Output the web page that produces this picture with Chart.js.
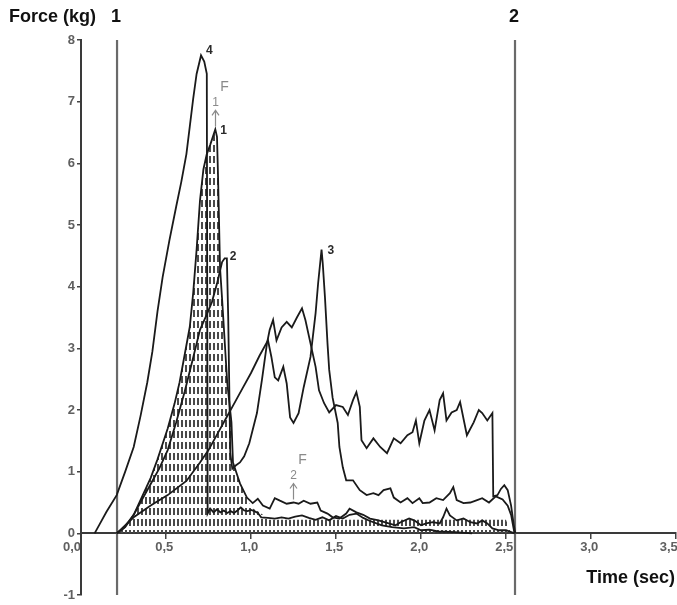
<!DOCTYPE html>
<html>
<head>
<meta charset="utf-8">
<script src="https://cdn.jsdelivr.net/npm/chart.js@4.4.3/dist/chart.umd.min.js"></script>
<style>
  html, body { margin: 0; padding: 0; background: #fff; }
  #wrap { position: relative; width: 677px; height: 605px; }
</style>
</head>
<body>
<div id="wrap"><canvas id="chart"></canvas></div>
<script>
/* Force / time traces: [time (s), force (kg)] */

const xTicks = [0, 0.5, 1, 1.5, 2, 2.5, 3, 3.5];
const yTicks = [-1, 0, 1, 2, 3, 4, 5, 6, 7, 8];
const xTitle = 'Time (sec)';
const yTitle = 'Force (kg)';

// vertical markers 1 and 2
const markerNames = ['1', '2'];
const markerTime = [0.212, 2.553];

const curve4 = [[0.08,0],[0.11,0.15],[0.15,0.35],[0.21,0.62],[0.26,1.0],[0.31,1.4],[0.35,1.9],[0.39,2.45],
  [0.42,2.95],[0.45,3.6],[0.48,4.15],[0.52,4.75],[0.56,5.3],[0.59,5.7],[0.62,6.15],[0.64,6.6],[0.66,7.05],
  [0.68,7.45],[0.706,7.75],[0.725,7.65],[0.74,7.45],[0.745,0.32],[0.76,0.4],[0.78,0.34],[0.80,0.39],[0.82,0.34],
  [0.84,0.37],[0.86,0.33],[0.88,0.36],[0.90,0.33],[0.92,0.37],[0.94,0.42],[0.96,0.37],[0.98,0.36],[1.00,0.38],
  [1.02,0.36],[1.04,0.33],[1.06,0.26],[1.10,0.25],[1.14,0.24],[1.18,0.26],[1.22,0.24],[1.26,0.27],[1.30,0.29],
  [1.34,0.25],[1.38,0.22],[1.42,0.26],[1.46,0.21],[1.50,0.28],[1.54,0.24],[1.58,0.3],[1.62,0.32],[1.66,0.25],
  [1.70,0.2],[1.77,0.13],[1.83,0.1],[1.90,0.08],[1.96,0.1],[2.00,0.05],[2.05,0.06],[2.10,0.03],[2.20,0.02],[2.30,0]];

const curve1 = [[0.21,0],[0.25,0.08],[0.31,0.3],[0.36,0.6],[0.41,0.9],[0.45,1.2],[0.51,1.7],[0.55,2.1],[0.58,2.45],
  [0.61,2.9],[0.64,3.35],[0.66,3.9],[0.68,4.6],[0.70,5.4],[0.72,5.9],[0.74,6.15],[0.76,6.3],[0.79,6.55],[0.80,6.43],
  [0.806,5.8],[0.818,4.3],[0.83,3.8],[0.86,2.45],[0.885,1.8],[0.894,1.15],[0.935,0.81],[0.976,0.58],[1.01,0.49],
  [1.04,0.56],[1.07,0.45],[1.11,0.4],[1.14,0.57],[1.17,0.53],[1.21,0.48],[1.25,0.5],[1.28,0.48],[1.31,0.53],
  [1.35,0.48],[1.39,0.5],[1.41,0.37],[1.45,0.32],[1.48,0.26],[1.52,0.24],[1.56,0.32],[1.58,0.4],[1.62,0.34],
  [1.66,0.3],[1.70,0.24],[1.75,0.21],[1.81,0.16],[1.85,0.13],[1.88,0.18],[1.93,0.24],[1.96,0.21],[2.00,0.13],
  [2.03,0.16],[2.07,0.18],[2.11,0.16],[2.13,0.26],[2.15,0.4],[2.17,0.29],[2.21,0.21],[2.25,0.24],[2.29,0.18],
  [2.33,0.16],[2.36,0.21],[2.39,0.16],[2.42,0.08],[2.46,0.05],[2.50,0.05],[2.55,0]];

const curve2 = [[0.21,0],[0.26,0.1],[0.31,0.3],[0.36,0.55],[0.41,0.8],[0.46,1.05],[0.51,1.35],[0.56,1.8],[0.61,2.3],
  [0.66,2.85],[0.70,3.3],[0.74,3.55],[0.77,3.75],[0.80,4.05],[0.83,4.4],[0.845,4.46],[0.858,4.46],[0.866,3.5],
  [0.872,2.4],[0.878,1.3],[0.89,1.05],[0.91,1.1],[0.935,1.15],[0.96,1.25],[0.99,1.46],[1.035,1.95],[1.065,2.5],
  [1.094,3.08],[1.11,3.3],[1.13,3.46],[1.15,3.13],[1.18,3.34],[1.21,3.43],[1.24,3.34],[1.27,3.5],[1.30,3.65],
  [1.32,3.46],[1.35,3.08],[1.38,2.7],[1.40,2.32],[1.43,2.11],[1.46,1.96],[1.50,2.08],[1.54,2.05],[1.57,1.92],
  [1.60,2.16],[1.62,2.29],[1.64,2.05],[1.65,1.51],[1.68,1.38],[1.72,1.54],[1.76,1.4],[1.80,1.3],[1.84,1.54],
  [1.88,1.46],[1.92,1.59],[1.95,1.64],[1.97,1.83],[1.99,1.46],[2.02,1.83],[2.05,2.0],[2.08,1.67],[2.11,2.16],
  [2.13,2.27],[2.15,1.83],[2.18,1.96],[2.21,2.0],[2.23,2.13],[2.27,1.59],[2.31,1.8],[2.34,2.0],[2.36,1.95],
  [2.39,1.83],[2.42,1.95],[2.425,0.6],[2.45,0.62],[2.47,0.72],[2.49,0.78],[2.51,0.7],[2.53,0.45],[2.545,0.15],[2.555,0]];

const curve3 = [[0.21,0],[0.31,0.26],[0.41,0.45],[0.51,0.62],[0.62,0.85],[0.70,1.15],[0.75,1.35],[0.80,1.6],
  [0.85,1.85],[0.90,2.1],[0.95,2.35],[1.00,2.6],[1.05,2.88],[1.10,3.13],[1.12,2.86],[1.14,2.53],[1.16,2.48],
  [1.19,2.7],[1.21,2.43],[1.23,1.88],[1.25,1.79],[1.28,1.95],[1.31,2.37],[1.35,2.86],[1.38,3.57],[1.395,4.06],
  [1.415,4.6],[1.422,4.38],[1.435,3.83],[1.45,3.08],[1.46,2.65],[1.48,2.2],[1.51,1.79],[1.52,1.4],[1.54,1.07],
  [1.56,0.86],[1.60,0.86],[1.64,0.7],[1.68,0.62],[1.72,0.65],[1.75,0.62],[1.78,0.7],[1.82,0.73],[1.84,0.58],
  [1.88,0.5],[1.92,0.57],[1.95,0.49],[1.99,0.57],[2.01,0.49],[2.05,0.5],[2.09,0.57],[2.13,0.54],[2.17,0.65],
  [2.19,0.75],[2.21,0.54],[2.25,0.49],[2.29,0.5],[2.33,0.54],[2.36,0.57],[2.40,0.5],[2.44,0.6],[2.48,0.55],
  [2.51,0.45],[2.53,0.3],[2.55,0]];

// top edge of the hatched area (impulse under trace 1)
const hatchEdge = [[0.21,0],[0.25,0.08],[0.31,0.3],[0.36,0.6],[0.41,0.9],[0.45,1.2],[0.51,1.7],[0.55,2.1],
  [0.58,2.45],[0.61,2.9],[0.64,3.35],[0.66,3.9],[0.68,4.6],[0.70,5.4],[0.72,5.9],[0.74,6.15],[0.76,6.3],
  [0.79,6.55],[0.80,6.43],[0.806,5.8],[0.818,4.3],[0.83,3.8],[0.86,2.45],[0.885,1.8],[0.894,1.15],[0.935,0.81],
  [0.976,0.58],[1.00,0.42],[1.04,0.36],[1.07,0.3],[1.10,0.22],[2.50,0.22],[2.53,0]];

// peak labels of the four traces
const peakNames = ['4', '1', '2', '3'];
const peakTime = [0.706, 0.79, 0.852, 1.415];
const peakForce = [7.75, 6.55, 4.46, 4.6];

// F1 / F2 arrows
const arrowNames = ['1', '2'];
const arrowTime = [0.79, 1.247];
const arrowForce = [6.55, 0.5];

const toXY = arr => arr.map(([x, y]) => ({ x, y }));

const ctx = document.getElementById('chart').getContext('2d');

// hatch: rows of short vertical dashes
function makeHatch() {
  const c = document.createElement('canvas');
  c.width = 4; c.height = 11;
  const g = c.getContext('2d');
  g.fillStyle = '#4a4a4a';
  g.fillRect(1, 2, 2, 7);
  return ctx.createPattern(c, 'repeat');
}

const lineStyle = { borderColor: '#1a1a1a', borderWidth: 1.8, pointRadius: 0, fill: false, order: 1 };

const datasets = [
  { data: toXY(hatchEdge), borderWidth: 0, pointRadius: 0, fill: 'origin', backgroundColor: makeHatch(), order: 10 },
  ...markerTime.map(t => ({ data: [{ x: t, y: -1 }, { x: t, y: 8 }], borderColor: '#6a6a6a', borderWidth: 2.2, pointRadius: 0, fill: false, order: 5 })),
  { ...lineStyle, data: toXY(curve4) },
  { ...lineStyle, data: toXY(curve1) },
  { ...lineStyle, data: toXY(curve2) },
  { ...lineStyle, data: toXY(curve3) },
];

const FONT = '"Liberation Sans", Arial, sans-serif';

const textPlugin = {
  id: 'texts',
  afterDraw(chart) {
    const { ctx, scales: { x, y } } = chart;
    ctx.save();
    ctx.textBaseline = 'middle';

    ctx.fillStyle = '#111';
    ctx.font = 'bold 18px ' + FONT;
    ctx.textAlign = 'left';
    ctx.fillText(yTitle, 9, 17);
    ctx.textAlign = 'right';
    ctx.fillText(xTitle, 675, 578);
    ctx.textAlign = 'center';
    markerTime.forEach((t, i) => ctx.fillText(markerNames[i], x.getPixelForValue(t) - 1, 17));

    // trace numbers next to their peaks
    const offs = [[5, -5], [5, 1], [4, -2], [6, 1]];
    ctx.font = 'bold 12px ' + FONT;
    ctx.fillStyle = '#2a2a2a';
    ctx.textAlign = 'left';
    peakNames.forEach((n, i) => {
      ctx.fillText(n, x.getPixelForValue(peakTime[i]) + offs[i][0], y.getPixelForValue(peakForce[i]) + offs[i][1]);
    });

    // F arrows
    ctx.strokeStyle = '#8a8a8a';
    ctx.fillStyle = '#8a8a8a';
    ctx.lineWidth = 1.2;
    arrowNames.forEach((n, i) => {
      const px = Math.round(x.getPixelForValue(arrowTime[i])) + 0.5;
      const py = y.getPixelForValue(arrowForce[i]);
      ctx.beginPath();
      ctx.moveTo(px, py - 3);
      ctx.lineTo(px, py - 19);
      ctx.moveTo(px - 3.5, py - 14);
      ctx.lineTo(px, py - 19);
      ctx.lineTo(px + 3.5, py - 14);
      ctx.stroke();
      ctx.font = '12px ' + FONT;
      ctx.textAlign = 'center';
      ctx.fillText(n, px, py - 27);
      ctx.font = '14px ' + FONT;
      ctx.fillText('F', px + 9, py - 42);
    });
    ctx.restore();
  }
};

// the first and last time labels sit a little left of their ticks in the original
function timeLabel(v) {
  const s = v.toFixed(1).replace('.', ',');
  if (v === 0) return s + '     ';
  if (v === 3.5) return s + '    ';
  return s + ' ';
}

new Chart(ctx, {
  type: 'line',
  data: { datasets },
  plugins: [textPlugin],
  options: {
    responsive: true,
    maintainAspectRatio: false,
    animation: false,
    layout: { padding: { top: 40, right: 1, bottom: 10, left: 0 } },
    plugins: { legend: { display: false }, tooltip: { enabled: false } },
    elements: { line: { tension: 0 } },
    scales: {
      x: {
        type: 'linear', min: 0, max: 3.5,
        position: { y: 0 },
        afterFit(s) { s.height = 0; s.paddingLeft = 0; s.paddingRight = 0; },
        afterBuildTicks(s) { s.ticks = xTicks.map(v => ({ value: v })); },
        ticks: {
          callback: timeLabel,
          color: '#606060', font: { family: FONT, size: 13, weight: 'bold' },
          padding: 1, maxRotation: 0, autoSkip: false
        },
        grid: { drawOnChartArea: false, drawTicks: true, tickLength: 5, color: '#444', lineWidth: 1.5 },
        border: { display: true, color: '#3a3a3a', width: 2 }
      },
      y: {
        min: -1, max: 8,
        afterFit(s) { s.width = 81; s.paddingTop = 0; s.paddingBottom = 0; },
        afterBuildTicks(s) { s.ticks = yTicks.map(v => ({ value: v })); },
        ticks: { color: '#606060', font: { family: FONT, size: 13, weight: 'bold' }, padding: 2 },
        grid: { drawOnChartArea: false, drawTicks: true, tickLength: 4, color: '#444', lineWidth: 1.5 },
        border: { display: true, color: '#3a3a3a', width: 2 }
      }
    }
  }
});
</script>
</body>
</html>
